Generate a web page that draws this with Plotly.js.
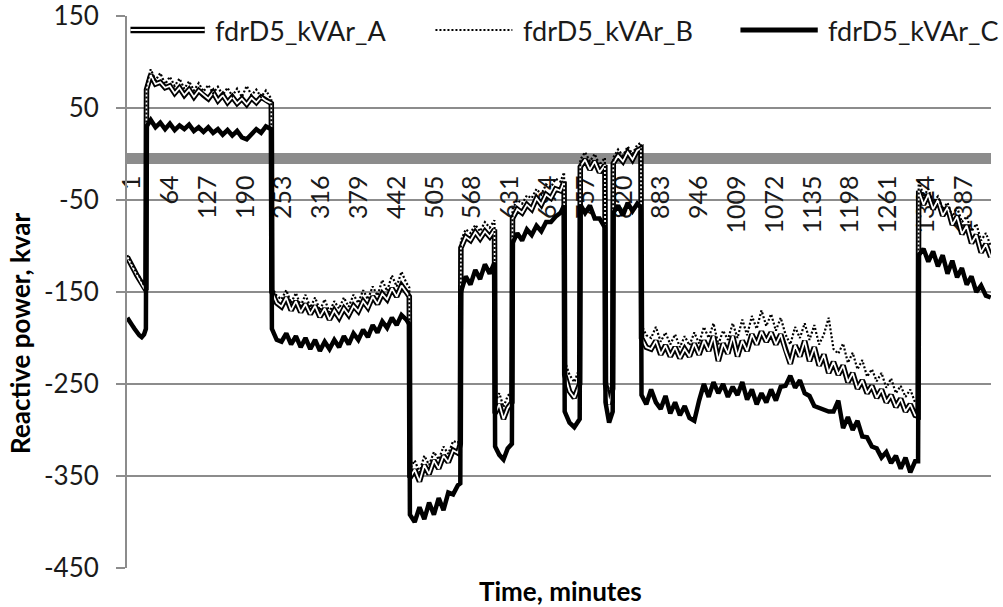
<!DOCTYPE html>
<html>
<head>
<meta charset="utf-8">
<script src="https://cdn.plot.ly/plotly-3.0.1.min.js"></script>
<style>html,body{margin:0;padding:0;background:#fff;}#chart{width:1003px;height:607px;}</style>
</head>
<body>
<div id="chart"></div>
<script>
// Time axis (minutes) sample positions
const minutes = [
  1,5,9,13,17,21,25,29,32,
  33,40,48,56,64,72,80,88,96,104,112,120,128,136,144,152,160,168,176,184,192,200,208,216,224,232,241,
  242,250,258,266,274,282,290,298,306,314,322,330,338,346,354,362,370,378,386,394,402,410,418,426,434,442,450,458,466,471,
  472,480,488,496,504,512,520,528,536,544,552,556,
  557,565,573,581,589,597,605,613,
  614,621,628,635,642,
  643,651,659,667,675,683,691,699,707,715,723,729,
  730,738,746,755,
  756,764,772,780,788,797,
  798,804,810,
  811,819,827,835,843,851,857,
  858,866,874,882,890,898,906,914,922,930,938,946,954,962,970,978,986,994,1002,1010,1018,1026,1034,1042,1050,1058,1066,1074,1082,1090,1098,1106,1114,1122,1130,1138,1146,1154,1162,1170,1178,1186,1194,1202,1210,1218,1226,1234,1242,1250,1258,1266,1274,1282,1290,1298,1306,1314,1319,
  1320,1328,1336,1344,1352,1360,1368,1376,1384,1392,1400,1408,1416,1424,1432,1440
];
const kvarA = [
  -112,-118,-122,-127,-132,-136,-141,-146,-148,
  70,86,76,78,72,74,66,72,64,70,62,69,64,60,67,58,64,56,62,55,60,54,61,56,62,58,55,
  -150,-162,-166,-156,-170,-160,-172,-163,-174,-165,-177,-168,-180,-170,-178,-168,-175,-165,-171,-160,-167,-155,-163,-152,-158,-146,-155,-143,-150,-155,
  -352,-343,-356,-338,-348,-333,-342,-328,-335,-322,-325,-315,
  -102,-90,-94,-85,-92,-84,-90,-82,
  -282,-272,-288,-276,-270,
  -70,-60,-64,-55,-60,-48,-55,-44,-48,-38,-40,-30,
  -240,-258,-265,-250,
  -14,-6,-17,-8,-20,-12,
  -250,-272,-255,
  -10,-2,-8,2,-6,4,6,
  -200,-210,-212,-203,-218,-208,-220,-210,-222,-212,-220,-206,-218,-203,-214,-198,-225,-206,-217,-198,-220,-203,-214,-196,-207,-193,-204,-194,-207,-196,-214,-228,-208,-220,-203,-225,-210,-230,-218,-238,-226,-240,-230,-248,-238,-255,-246,-260,-252,-265,-256,-270,-262,-275,-266,-280,-272,-284,-285,
  -40,-55,-44,-60,-50,-67,-58,-77,-68,-87,-78,-97,-88,-107,-98,-112
];
const kvarB = [
  -110,-115,-120,-124,-130,-133,-139,-143,-146,
  75,92,80,88,76,84,74,82,71,79,69,77,68,75,66,73,64,72,63,71,62,74,64,70,62,69,60,
  -145,-154,-158,-148,-162,-151,-165,-153,-167,-156,-170,-158,-172,-160,-168,-156,-166,-153,-162,-148,-158,-144,-154,-137,-149,-132,-144,-128,-140,-145,
  -342,-333,-346,-328,-338,-324,-332,-318,-326,-312,-314,-305,
  -94,-82,-86,-77,-84,-74,-80,-72,
  -270,-260,-275,-263,-258,
  -60,-50,-54,-45,-48,-38,-44,-33,-36,-27,-30,-20,
  -225,-240,-248,-232,
  -6,2,-8,0,-12,-4,
  -240,-260,-245,
  -4,5,-2,8,0,10,12,
  -186,-197,-200,-188,-204,-194,-207,-196,-210,-198,-208,-194,-206,-188,-200,-184,-207,-192,-202,-184,-200,-180,-197,-176,-190,-170,-187,-174,-192,-178,-196,-207,-188,-200,-184,-202,-186,-207,-196,-178,-212,-217,-206,-227,-216,-234,-224,-242,-234,-247,-238,-254,-244,-260,-252,-264,-256,-270,-272,
  -28,-46,-38,-52,-46,-60,-53,-68,-58,-74,-68,-84,-76,-94,-86,-100
];
const kvarC = [
  -178,-183,-186,-190,-194,-197,-199,-196,-190,
  30,37,29,34,27,33,26,31,27,32,25,29,24,29,23,27,21,26,20,25,18,16,22,27,23,30,27,
  -190,-202,-204,-195,-207,-198,-210,-200,-212,-202,-214,-204,-212,-202,-210,-198,-207,-195,-202,-191,-199,-186,-194,-182,-189,-178,-186,-175,-180,-185,
  -392,-400,-384,-397,-379,-392,-374,-387,-368,-370,-360,-358,
  -150,-133,-142,-126,-136,-120,-130,-118,
  -318,-327,-332,-320,-315,
  -97,-86,-94,-82,-88,-78,-84,-74,-74,-68,-64,-56,
  -280,-292,-297,-288,
  -55,-64,-56,-70,-70,-80,
  -270,-292,-280,
  -64,-56,-67,-53,-62,-54,-58,
  -262,-272,-256,-270,-277,-263,-282,-270,-284,-274,-287,-290,-268,-250,-264,-248,-260,-250,-264,-253,-262,-248,-267,-256,-272,-260,-270,-256,-268,-253,-252,-241,-254,-246,-260,-263,-274,-276,-277,-280,-280,-268,-298,-286,-300,-290,-307,-308,-318,-320,-330,-324,-336,-328,-342,-330,-346,-334,-334,
  -110,-103,-117,-106,-122,-110,-130,-116,-134,-124,-142,-133,-150,-143,-154,-156
];
const tickMinutes = [1,64,127,190,253,316,379,442,505,568,631,694,757,820,883,946,1009,1072,1135,1198,1261,1324,1387];
const seriesNames = ['fdrD5_kVAr_A','fdrD5_kVAr_B','fdrD5_kVAr_C'];
const yTickVals = [150,50,-50,-150,-250,-350,-450];

const FONT = 'Lato, "Open Sans", "DejaVu Sans", sans-serif';
const TXT = '#1a1a1a';
const GRID = '#8c8c8c';

// Data traces live on xaxis2 (overlay, drawn above); xaxis (base) carries the category labels on the zero line
const traces = [
  {x: [tickMinutes[0]], y: [null], type:'scatter', mode:'lines', showlegend:false, hoverinfo:'skip', line:{width:0}},
  {x: minutes, y: kvarA, type:'scatter', mode:'lines', xaxis:'x2', name: seriesNames[0], line:{color:'#000', width:5.5}, hoverinfo:'skip'},
  {x: minutes, y: kvarA, type:'scatter', mode:'lines', xaxis:'x2', name: seriesNames[0], line:{color:'#fff', width:1.8}, hoverinfo:'skip'},
  {x: minutes, y: kvarB, type:'scatter', mode:'lines', xaxis:'x2', name: seriesNames[1], line:{color:'#000', width:2.2, dash:'2px,2px'}},
  {x: minutes, y: kvarC, type:'scatter', mode:'lines', xaxis:'x2', name: seriesNames[2], line:{color:'#000', width:4.5}}
];

const legY = 0.9746;
const layout = {
  width: 1003, height: 607,
  margin: {l:127, r:12, t:16, b:39, pad:0},
  paper_bgcolor:'#fff', plot_bgcolor:'#fff',
  font: {family: FONT, color: TXT, size: 26},
  showlegend: false,
  xaxis: {anchor:'free', position:0.722, side:'bottom', range:[-7.5,1432.5], layer:'below traces',
          tickmode:'array', tickvals: tickMinutes, ticktext: tickMinutes.map(String), tickangle:-90,
          showgrid:false, zeroline:false, showline:false, ticks:'', ticklabeloverflow:'allow',
          tickfont:{family:FONT, size:25, color:TXT}, fixedrange:true},
  xaxis2: {overlaying:'x', anchor:'y', range:[0.5,1440.5], showticklabels:false, showgrid:false, zeroline:false, showline:false, ticks:'', fixedrange:true},
  yaxis: {range:[-450,150], tickmode:'array', tickvals: yTickVals, ticktext: yTickVals.map(String),
          showgrid:true, gridcolor:GRID, gridwidth:2, zeroline:false,
          showline:true, linecolor:GRID, linewidth:2, ticklabeloverflow:'allow',
          ticks:'outside', ticklen:9, tickcolor:GRID, tickwidth:2, ticklabelstandoff:12,
          tickfont:{family:FONT, size:26, color:TXT}, fixedrange:true},
  shapes: [
    {type:'rect', xref:'paper', x0:0, x1:1, yref:'y', y0:-11, y1:1, fillcolor:'#8c8c8c', line:{width:0}, layer:'below'},
    {type:'line', xref:'paper', yref:'paper', x0:0.004, x1:0.090, y0:legY, y1:legY, line:{color:'#000', width:6.5}},
    {type:'line', xref:'paper', yref:'paper', x0:0.004, x1:0.090, y0:legY, y1:legY, line:{color:'#fff', width:2.2}},
    {type:'line', xref:'paper', yref:'paper', x0:0.357, x1:0.446, y0:legY, y1:legY, line:{color:'#000', width:2.2, dash:'2px,2px'}},
    {type:'line', xref:'paper', yref:'paper', x0:0.710, x1:0.7995, y0:legY, y1:legY, line:{color:'#000', width:5}}
  ],
  annotations: [
    {text: seriesNames[0], xref:'paper', yref:'paper', x:0.0997, y:legY, xanchor:'left', yanchor:'middle', showarrow:false, font:{family:FONT, size:27, color:TXT}},
    {text: seriesNames[1], xref:'paper', yref:'paper', x:0.4565, y:legY, xanchor:'left', yanchor:'middle', showarrow:false, font:{family:FONT, size:27, color:TXT}},
    {text: seriesNames[2], xref:'paper', yref:'paper', x:0.8088, y:legY, xanchor:'left', yanchor:'middle', showarrow:false, font:{family:FONT, size:27, color:TXT}},
    {text: 'Reactive power, kvar', xref:'paper', yref:'paper', x:-0.124, y:0.4257, xanchor:'center', yanchor:'middle', textangle:-90, showarrow:false, font:{family:FONT, size:26, color:'#000', weight:700}},
    {text: 'Time, minutes', xref:'paper', yref:'paper', x:0.5017, y:-0.0417, xanchor:'center', yanchor:'middle', showarrow:false, font:{family:FONT, size:26, color:'#000', weight:700}}
  ]
};

Plotly.newPlot('chart', traces, layout, {staticPlot:true, displayModeBar:false});
</script>
</body>
</html>
